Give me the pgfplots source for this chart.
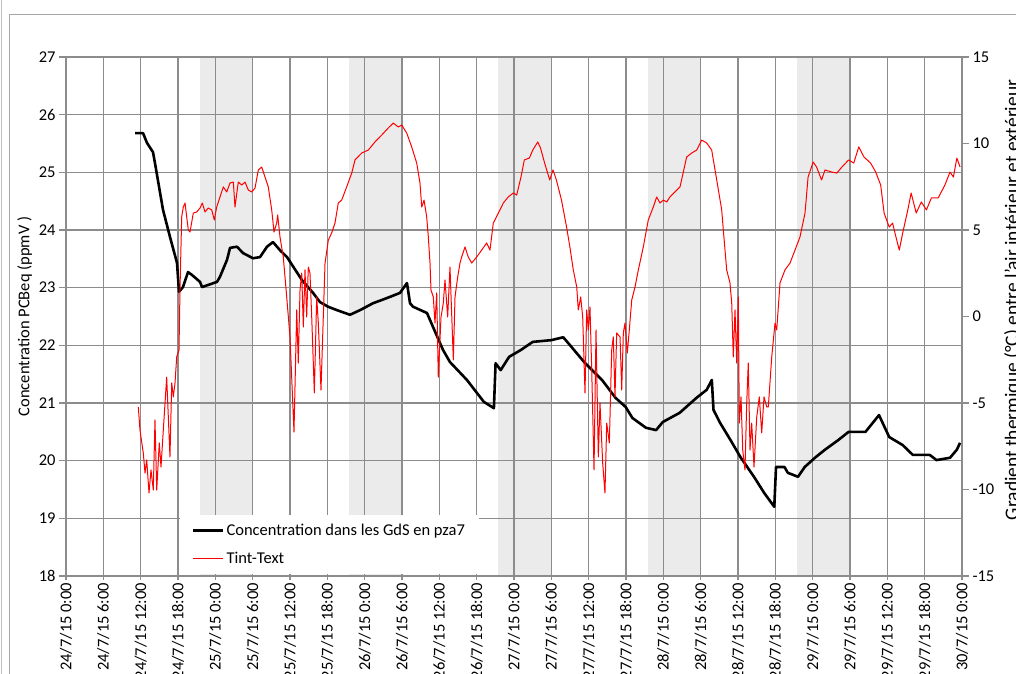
\documentclass[border=0pt]{standalone}
\usepackage{fontspec}
\setmainfont{Carlito}
\usepackage{pgfplots}
\pgfplotsset{compat=1.18}
\newcommand\cf{\fontsize{16.5bp}{19bp}\selectfont}
\begin{document}
\begin{tikzpicture}
\useasboundingbox (0bp,0bp) rectangle (1016bp,674bp);
\fill[white] (0bp,0bp) rectangle (1016bp,674bp);
\draw[black!35, line width=1bp] (9bp,-10bp) -- (9bp,659bp) -- (1030bp,659bp);
\draw[black!25, line width=1bp] (1bp,-10bp) -- (1bp,680bp);
% --- night bands
\begin{axis}[
  scale only axis, width=896bp, height=519bp,
  at={(66bp,98bp)}, anchor=south west,
  xmin=0, xmax=144, ymin=18, ymax=27,
  hide axis]
\addplot[fill=black!8, draw=none] coordinates {(21.5,18)(21.5,27)(30,27)(30,18)} -- cycle;
\addplot[fill=black!8, draw=none] coordinates {(45.5,18)(45.5,27)(54,27)(54,18)} -- cycle;
\addplot[fill=black!8, draw=none] coordinates {(69.5,18)(69.5,27)(78,27)(78,18)} -- cycle;
\addplot[fill=black!8, draw=none] coordinates {(93.5,18)(93.5,27)(102,27)(102,18)} -- cycle;
\addplot[fill=black!8, draw=none] coordinates {(117.5,18)(117.5,27)(126,27)(126,18)} -- cycle;
\end{axis}
% --- left axis
\begin{axis}[
  scale only axis, width=896bp, height=519bp,
  at={(66bp,98bp)}, anchor=south west,
  xmin=0, xmax=144, ymin=18, ymax=27,
  xtick={0,6,...,144},
  xticklabels={24/7/15 0:00,24/7/15 6:00,24/7/15 12:00,24/7/15 18:00,
    25/7/15 0:00,25/7/15 6:00,25/7/15 12:00,25/7/15 18:00,
    26/7/15 0:00,26/7/15 6:00,26/7/15 12:00,26/7/15 18:00,
    27/7/15 0:00,27/7/15 6:00,27/7/15 12:00,27/7/15 18:00,
    28/7/15 0:00,28/7/15 6:00,28/7/15 12:00,28/7/15 18:00,
    29/7/15 0:00,29/7/15 6:00,29/7/15 12:00,29/7/15 18:00,
    30/7/15 0:00},
  ytick={18,19,...,27},
  xtick pos=bottom, ytick pos=left,
  xtick align=center, ytick align=outside,
  major tick length=7bp,
  grid=major,
  major grid style={black!45, line width=1.1bp},
  axis line style={black!45, line width=1.1bp},
  tick style={black!45, line width=1.1bp},
  /pgf/number format/assume math mode=true,
  tick label style={font=\cf},
  xticklabel style={rotate=90, anchor=east},
  ylabel={Concentration PCBeq (ppmV )},
  ylabel style={font=\cf},
  clip=true]
\addplot[black, line width=2.6bp, line join=round] coordinates {
(11.09,25.68)(12.38,25.68)(13.02,25.51)(13.98,25.35)(14.30,25.16)(15.59,24.35)(16.71,23.88)(17.84,23.43)(18.16,22.93)(18.80,23.01)(19.61,23.27)(20.25,23.22)(21.54,23.10)(21.86,23.01)(24.27,23.10)(24.75,23.19)(25.87,23.48)(26.36,23.69)(27.48,23.71)(28.45,23.60)(30.05,23.51)(31.18,23.53)(32.30,23.71)(33.27,23.79)(34.39,23.65)(35.52,23.53)(37.93,23.13)(39.70,22.91)(40.82,22.75)(42.11,22.67)(43.55,22.61)(45.64,22.53)(47.25,22.61)(49.34,22.73)(51.59,22.82)(53.68,22.91)(54.80,23.08)(55.29,22.73)(55.77,22.67)(58.02,22.56)(58.98,22.32)(60.59,21.92)(61.71,21.71)(64.43,21.40)(67.15,21.02)(68.77,20.91)(69.04,21.69)(69.86,21.57)(71.21,21.80)(73.11,21.92)(75.02,22.06)(78.01,22.09)(79.91,22.14)(80.71,22.04)(83.43,21.69)(86.14,21.40)(88.31,21.09)(89.95,20.93)(91.03,20.74)(93.21,20.57)(94.84,20.53)(95.91,20.67)(98.63,20.83)(101.34,21.09)(102.98,21.23)(103.79,21.40)(104.06,20.88)(105.15,20.65)(106.78,20.36)(108.40,20.06)(110.57,19.72)(112.21,19.44)(113.83,19.20)(114.11,19.89)(115.47,19.89)(116.00,19.79)(117.64,19.72)(118.72,19.89)(120.36,20.05)(121.98,20.19)(124.15,20.36)(125.78,20.50)(128.49,20.50)(130.66,20.79)(132.30,20.41)(134.47,20.27)(136.09,20.10)(138.81,20.10)(139.90,20.01)(142.07,20.05)(143.17,20.19)(143.69,20.31)
};
\end{axis}
% --- right axis
\begin{axis}[
  scale only axis, width=896bp, height=519bp,
  at={(66bp,98bp)}, anchor=south west,
  xmin=0, xmax=144, ymin=-15, ymax=15,
  axis x line=none, axis y line*=right,
  ytick={-15,-10,...,15},
  ytick align=outside, major tick length=7bp,
  axis line style={black!45, line width=1.1bp},
  tick style={black!45, line width=1.1bp},
  /pgf/number format/assume math mode=true,
  tick label style={font=\cf},
  legend style={at={(axis description cs:0.127,0.004)}, anchor=south west,
    draw=none, fill=white, font=\cf, row sep=11bp,
    inner xsep=12bp, inner ysep=7bp},
  legend cell align=left,
  legend image code/.code={\draw[#1] (0bp,0bp) -- (30bp,0bp);},
  clip=true]
\addlegendimage{black, line width=2.6bp}
\addlegendentry{Concentration dans les GdS en pza7}
\addplot[red, line width=1bp, line join=round] coordinates {
(11.62,-5.23)(11.89,-6.56)(12.42,-7.89)(12.70,-9.05)(12.97,-8.29)(13.34,-10.20)(13.66,-8.87)(14.03,-10.03)(14.30,-5.98)(14.58,-10.03)(14.99,-7.31)(15.27,-8.70)(15.64,-6.56)(16.18,-3.50)(16.71,-8.12)(16.99,-3.84)(17.24,-4.65)(17.52,-3.84)(17.79,-2.34)(18.16,-1.94)(18.32,1.53)(18.59,5.75)(18.85,6.33)(19.13,6.56)(19.40,5.75)(19.66,5.00)(19.93,4.88)(20.46,5.98)(21.00,6.04)(21.54,6.27)(21.91,6.56)(22.34,6.04)(22.87,6.27)(23.42,6.16)(23.83,5.58)(24.22,6.33)(24.75,6.91)(25.28,7.49)(25.83,7.20)(26.36,7.72)(26.89,7.77)(27.16,6.33)(27.69,7.77)(28.24,7.60)(28.77,7.77)(29.30,7.31)(29.84,7.20)(30.38,7.43)(30.91,8.47)(31.45,8.64)(31.98,8.06)(32.51,7.49)(33.06,6.16)(33.43,4.88)(33.86,5.40)(34.02,5.87)(34.39,4.60)(34.92,3.44)(35.47,1.13)(36.00,-1.18)(36.64,-6.68)(37.08,0.38)(37.33,-2.69)(37.61,1.53)(37.88,2.51)(38.14,-0.61)(38.41,2.69)(38.68,-0.03)(38.94,2.86)(39.21,2.51)(39.49,-0.03)(39.91,-4.42)(40.29,1.13)(40.55,-0.38)(40.98,-4.25)(41.35,-0.03)(41.63,3.09)(42.16,4.42)(42.70,4.83)(43.23,5.40)(43.76,6.56)(44.31,6.73)(45.11,7.49)(45.92,8.29)(46.45,9.05)(47.52,9.45)(48.58,9.62)(49.66,10.09)(50.74,10.49)(51.80,10.90)(52.60,11.18)(53.41,10.95)(53.95,11.07)(54.75,10.61)(55.56,9.80)(56.36,8.87)(56.89,7.72)(57.17,6.33)(57.54,6.73)(57.97,5.75)(58.23,4.60)(58.50,3.09)(58.66,1.53)(59.03,1.13)(59.30,-0.38)(59.58,1.36)(59.83,-3.50)(60.27,-0.03)(60.64,0.78)(60.91,2.11)(61.34,-0.03)(61.71,2.86)(62.25,-2.51)(62.52,1.13)(62.95,2.28)(63.32,3.09)(63.59,3.44)(64.12,4.02)(64.65,3.44)(65.20,3.09)(66.00,3.44)(66.81,3.84)(67.61,4.25)(68.14,3.84)(68.67,5.40)(69.48,5.98)(70.28,6.56)(71.08,6.91)(71.89,7.14)(72.43,7.02)(73.12,8.06)(73.66,9.05)(74.47,9.16)(75.02,9.62)(75.82,10.09)(76.26,9.74)(76.92,8.87)(77.74,7.89)(78.27,8.47)(78.81,7.89)(79.63,6.73)(80.45,5.17)(80.98,4.02)(81.53,2.69)(82.08,1.71)(82.33,0.38)(82.72,1.13)(83.04,-0.03)(83.41,-4.42)(83.68,0.38)(83.94,-0.78)(84.21,0.55)(84.49,-3.09)(84.86,-8.87)(85.18,-0.78)(85.55,-8.12)(85.82,-5.00)(86.25,-8.47)(86.62,-10.20)(86.90,-6.16)(87.32,-7.31)(87.70,-1.94)(87.96,-1.18)(88.23,-4.65)(88.50,-0.95)(89.04,-1.18)(89.31,-4.25)(89.57,-0.95)(89.84,-0.38)(90.21,-2.11)(90.53,-0.78)(90.92,0.95)(91.45,1.71)(91.98,2.69)(92.78,4.02)(93.58,5.58)(94.39,6.33)(94.93,6.91)(95.46,6.56)(95.99,6.73)(96.54,6.62)(97.07,6.91)(98.68,7.49)(99.75,9.22)(100.56,9.45)(101.36,9.62)(102.16,10.20)(102.97,10.03)(103.77,9.62)(104.58,7.89)(105.38,6.16)(105.64,5.00)(106.18,2.69)(106.71,1.94)(106.99,0.78)(107.24,-2.34)(107.52,0.38)(107.79,-2.69)(108.05,1.13)(108.21,-6.16)(108.48,-4.65)(108.76,-7.72)(109.12,-8.87)(109.40,-5.00)(109.65,-2.69)(109.93,-7.72)(110.20,-6.16)(110.57,-8.70)(111.01,-5.81)(111.42,-4.65)(111.81,-6.73)(112.18,-4.65)(112.61,-5.23)(112.87,-5.23)(113.42,-2.34)(113.95,-0.38)(114.22,-0.78)(114.75,1.94)(115.55,2.69)(116.36,3.09)(117.16,3.84)(117.96,4.60)(118.77,5.98)(119.26,8.06)(120.08,8.93)(120.63,8.64)(121.43,7.89)(121.98,8.47)(123.07,8.35)(123.88,8.29)(124.70,8.64)(125.78,9.05)(126.60,8.87)(127.41,9.80)(128.24,9.22)(129.31,8.87)(130.13,8.35)(130.93,7.60)(131.48,5.98)(132.30,5.17)(132.84,5.40)(133.38,4.60)(133.92,3.84)(134.47,4.83)(135.29,6.16)(135.82,7.14)(136.64,5.98)(137.46,6.62)(138.28,6.16)(139.08,6.85)(140.17,6.85)(141.25,7.60)(142.07,8.35)(142.62,8.06)(143.17,9.16)(143.69,8.64)
};
\addlegendentry{Tint-Text}
\end{axis}
\node[rotate=90, anchor=north, inner sep=0pt, font=\fontsize{19.5bp}{22bp}\selectfont]
  at (1004bp,374bp) {Gradient thermique (°C) entre l'air intérieur et extérieur};
\end{tikzpicture}
\end{document}
